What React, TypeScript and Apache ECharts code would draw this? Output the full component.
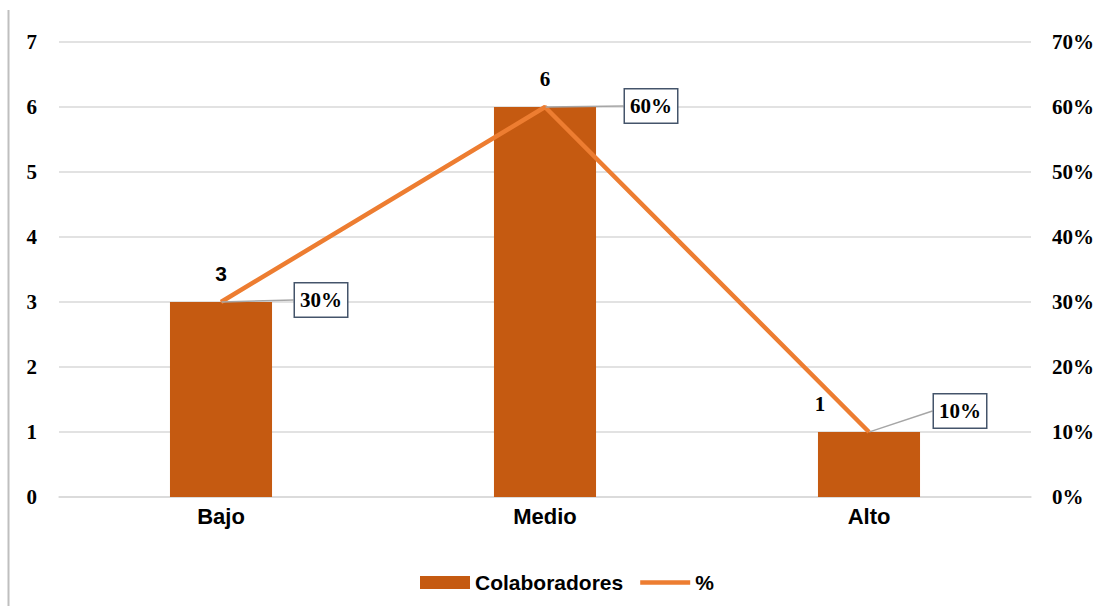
import React, { useEffect, useRef } from "react";
import * as echarts from "echarts";

const categories = ["Bajo", "Medio", "Alto"];
const colaboradores = [3, 6, 1];
const porcentaje = [0.3, 0.6, 0.1];
const leftTicks = [0, 1, 2, 3, 4, 5, 6, 7];
const rightTicks = ["0%", "10%", "20%", "30%", "40%", "50%", "60%", "70%"];

const pctLabelDx = [100, 106, 91];
const pctLabelDy = [-2, -1, -21];

const SERIF = "'Liberation Serif', 'Times New Roman', serif";
const SANS = "'Liberation Sans', Arial, sans-serif";

export default function App() {
  const ref = useRef<HTMLDivElement>(null);
  useEffect(() => {
    document.body.style.margin = "0";
    const chart = echarts.init(ref.current!, null, { renderer: "svg" });
    chart.setOption({
      animation: false,
      backgroundColor: "#ffffff",
      graphic: [
        {
          type: "line",
          shape: { x1: 8.5, y1: 10, x2: 8.5, y2: 606 },
          style: { stroke: "#BFBFBF", lineWidth: 2 },
        },
      ],
      grid: { left: 59, right: 68, top: 42, bottom: 109 },
      legend: {
        left: 415,
        top: 567,
        itemWidth: 50,
        itemHeight: 13,
        itemGap: 17,
        textStyle: { fontFamily: SANS, fontWeight: "bold", fontSize: 21, color: "#000" },
        data: [
          { name: "Colaboradores", icon: "rect" },
          { name: "%", icon: "path://M0,0L50,0L50,4.5L0,4.5Z" },
        ],
      },
      xAxis: {
        type: "category",
        data: categories,
        axisTick: { show: false },
        axisLine: { lineStyle: { color: "#D9D9D9", width: 1.5 } },
        axisLabel: {
          fontFamily: SANS,
          fontWeight: "bold",
          fontSize: 22,
          color: "#000",
          margin: 8,
        },
      },
      yAxis: [
        {
          type: "value",
          min: 0,
          max: 7,
          interval: 1,
          axisLine: { show: false },
          axisTick: { show: false },
          splitLine: { lineStyle: { color: "#D9D9D9", width: 1.5 } },
          axisLabel: {
            fontFamily: SERIF,
            fontWeight: "bold",
            fontSize: 21,
            color: "#000",
            margin: 22,
            formatter: (v: number) => String(leftTicks[Math.round(v)] ?? v),
          },
        },
        {
          type: "value",
          min: 0,
          max: 0.7,
          interval: 0.1,
          axisLine: { show: false },
          axisTick: { show: false },
          splitLine: { show: false },
          axisLabel: {
            fontFamily: SERIF,
            fontWeight: "bold",
            fontSize: 21,
            color: "#000",
            margin: 21,
            formatter: (v: number) => rightTicks[Math.round(v * 10)] ?? "",
          },
        },
      ],
      series: [
        {
          name: "Colaboradores",
          type: "bar",
          barWidth: "31.5%",
          itemStyle: { color: "#C55A11" },
          data: colaboradores.map((v, i) => ({
            value: v,
            label:
              i === 0
                ? { fontFamily: SANS }
                : i === 2
                ? { offset: [-49, 0] }
                : {},
          })),
          label: {
            show: true,
            position: "top",
            distance: 18,
            fontFamily: SERIF,
            fontWeight: "bold",
            fontSize: 21,
            color: "#000",
          },
          z: 2,
        },
        {
          name: "%",
          type: "line",
          yAxisIndex: 1,
          data: porcentaje,
          symbol: "circle",
          symbolSize: 1,
          showSymbol: true,
          itemStyle: { color: "#ED7D31" },
          lineStyle: { color: "#ED7D31", width: 4.5 },
          z: 3,
          label: {
            show: true,
            position: "inside",
            formatter: (p: any) => Math.round(p.value * 100) + "%",
            fontFamily: SERIF,
            fontWeight: "bold",
            fontSize: 21,
            color: "#000",
            backgroundColor: "#ffffff",
            borderColor: "#44546A",
            borderWidth: 1.5,
            padding: [6, 5, 6, 5],
          },
          labelLine: {
            show: true,
            lineStyle: { color: "#A6A6A6", width: 1.5 },
          },
          labelLayout: (p: any) => ({
            dx: pctLabelDx[p.dataIndex],
            dy: pctLabelDy[p.dataIndex],
          }),
        },
      ],
    });
    return () => chart.dispose();
  }, []);
  return <div ref={ref} style={{ width: 1099, height: 606 }} />;
}
